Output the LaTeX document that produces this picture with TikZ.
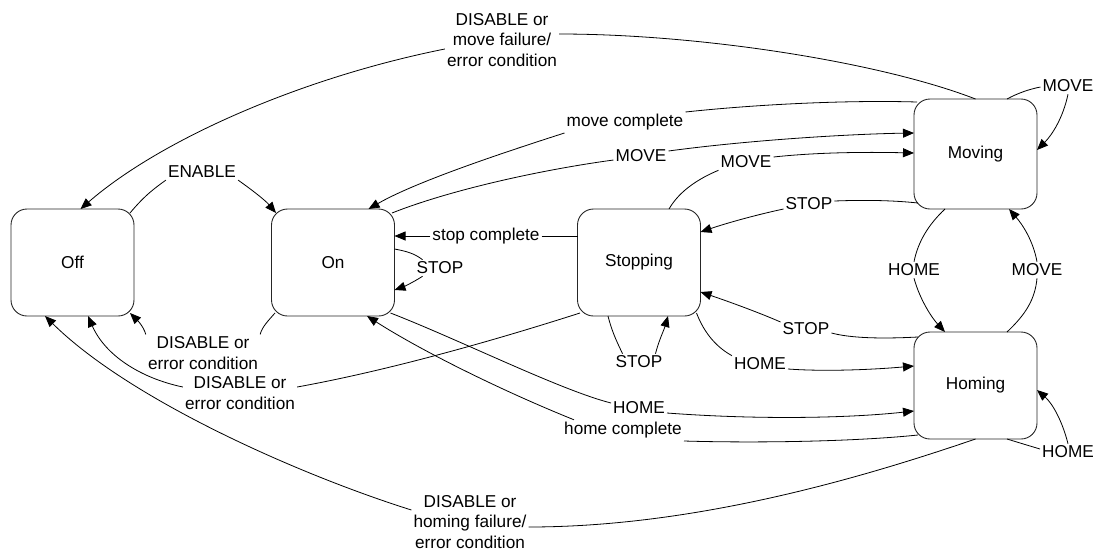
\documentclass[tikz,border=0pt]{standalone}
\usepackage{fontspec}
\setmainfont{Liberation Sans}
\usetikzlibrary{arrows.meta}
\begin{document}
\begin{tikzpicture}[x=1pt,y=-1pt,
  state/.style={draw=black!85,line width=0.9pt,rounded corners=16pt,minimum width=123pt,minimum height=107pt,outer sep=0pt,inner sep=0pt},
  lab/.style={inner sep=2pt,align=center},
  conn/.style={line width=0.8pt},
  arr/.style={conn,-{Triangle[length=11pt,width=9pt]}},
  every node/.style={font=\fontsize{17.2}{20.5}\selectfont}]
\useasboundingbox (0,0) rectangle (1096,550);
% states
\node[state] (off) at (72.5,262.5) {Off};
\node[state] (on) at (333,262.5) {On};
\node[state] (stp) at (639,262.5) {Stopping};
\node[state,minimum height=110pt] (mov) at (975.5,154) {Moving};
\node[state] (hom) at (975.5,385.5) {Homing};
% labels
\node[lab] (l1) at (502,40) {DISABLE or\\move failure/\\error condition};
\node[lab] (en) at (202,172) {ENABLE};
\node[lab] (l3) at (203,353) {DISABLE or\\error condition};
\node[lab] (l4) at (240,393) {DISABLE or\\error condition};
\node[lab] (l5) at (470,522) {DISABLE or\\homing failure/\\error condition};
\node[lab] (l6) at (641,156) {MOVE};
\node[lab] (l7) at (625,122) {move complete};
\node[lab] (sc) at (486,236) {stop complete};
\node[lab] (l9) at (440,268) {STOP};
\node[lab] (l10) at (746,162) {MOVE};
\node[lab] (l11) at (809,204) {STOP};
\node[lab] (l12) at (806,329) {STOP};
\node[lab] (l13) at (760,364) {HOME};
\node[lab] (l14) at (639,362) {STOP};
\node[lab] (l15) at (639,408) {HOME};
\node[lab] (l16) at (623,430) {home complete};
\node[lab] (l17) at (914,270) {HOME};
\node[lab] (l18) at (1037,270) {MOVE};
\node[lab] (l19) at (1068,86) {MOVE};
\node[lab] (l20) at (1068,452) {HOME};
% E1 Moving -> Off
\draw[conn] (mov.north) .. controls (880,62) and (700,34) .. ([yshift=6pt]l1.east);
\draw[arr] ([yshift=-9pt]l1.west) .. controls (300,78) and (160,140) .. ([xshift=8pt]off.north);
% E2 Off -> On
\draw[conn] ([xshift=-4pt,yshift=-4pt]off.north east) .. controls (145,195) and (155,188) .. (en.south west);
\draw[arr] (en.south east) .. controls (252,190) and (265,200) .. ([xshift=4.5pt,yshift=-4pt]on.north west);
% E3 On -> Off
\draw[conn] ([xshift=3.5pt,yshift=3pt]on.south west) .. controls (268,321) and (262,327) .. (l3.north east);
\draw[arr] (l3.north west) .. controls (143,325) and (136,319) .. ([xshift=-4pt,yshift=3pt]off.south east);
% E4 Stopping -> Off
\draw[conn] ([xshift=2.5pt,yshift=3pt]stp.south west) .. controls (480,345) and (380,372) .. ([yshift=6pt]l4.east);
\draw[arr] ([yshift=6pt]l4.west) .. controls (140,378) and (105,355) .. ([xshift=15.5pt]off.south);
% E5 Homing -> Off
\draw[conn] (hom.south) .. controls (870,475) and (700,527) .. ([yshift=-5pt]l5.east);
\draw[arr] ([yshift=12pt]l5.west) .. controls (300,475) and (130,400) .. ([xshift=-27.5pt]off.south);
% E6 On -> Moving (MOVE)
\draw[conn] ([xshift=-2.5pt,yshift=-4pt]on.north east) .. controls (450,190) and (540,170) .. ([yshift=-4pt]l6.west);
\draw[arr] ([yshift=5pt]l6.east) .. controls (750,140) and (850,134) .. ([yshift=21pt]mov.west);
% E7 Moving -> On (move complete)
\draw[conn] ([xshift=3pt,yshift=-3pt]mov.north west) .. controls (850,100) and (760,104) .. ([yshift=10pt]l7.east);
\draw[arr] ([yshift=-11pt]l7.west) .. controls (480,160) and (410,185) .. ([xshift=-26pt]on.north east);
% E8 Stopping -> On (stop complete)
\draw[conn] (sc.east) -- (sc.east -| stp.west);
\draw[arr] (sc.west) -- (sc.west -| on.east);
% E9 On -> On (STOP)
\draw[conn] ([yshift=13.5pt]on.east) .. controls (405,251) and (414,253) .. ([xshift=8pt]l9.north west);
\draw[arr] ([xshift=8pt]l9.south west) .. controls (412,283) and (403,287) .. ([yshift=-27.5pt]on.east);
% E10 Stopping -> Moving (MOVE)
\draw[conn] ([xshift=30pt]stp.north) .. controls (680,190) and (700,178) .. (l10.south west);
\draw[arr] ([yshift=5pt]l10.east) .. controls (820,152) and (870,152) .. ([yshift=1pt]mov.west);
% E11 Moving -> Stopping (STOP)
\draw[conn] ([xshift=4pt,yshift=6pt]mov.south west) .. controls (890,200) and (860,200) .. ([yshift=3pt]l11.east);
\draw[arr] ([yshift=-5pt]l11.west) .. controls (760,214) and (730,222) .. ([yshift=30.5pt]stp.east);
% E12 Homing -> Stopping (STOP)
\draw[conn] ([xshift=4pt,yshift=-5pt]hom.north west) .. controls (880,339) and (850,338) .. ([yshift=-4pt]l12.east);
\draw[arr] ([yshift=7pt]l12.west) .. controls (760,313) and (730,302) .. ([yshift=-29.5pt]stp.east);
% E13 Stopping -> Homing (HOME)
\draw[conn] ([xshift=-4pt,yshift=3pt]stp.south east) .. controls (705,335) and (718,348) .. (l13.north west);
\draw[arr] ([yshift=-5pt]l13.east) .. controls (830,372) and (880,369) .. ([yshift=19.5pt]hom.west);
% E14 Stopping -> Stopping (STOP)
\draw[conn] ([xshift=-31pt]stp.south) .. controls (612,332) and (617,342) .. ([xshift=9pt]l14.north west);
\draw[arr] ([xshift=-9pt]l14.north east) .. controls (659,340) and (664,330) .. ([xshift=29pt]stp.south);
% E15 On -> Homing (HOME)
\draw[conn] ([xshift=-4pt,yshift=3pt]on.south east) .. controls (460,340) and (560,390) .. ([yshift=5pt]l15.west);
\draw[arr] ([yshift=-5pt]l15.east) .. controls (760,420) and (850,418) .. ([yshift=-25.5pt]hom.west);
% E16 Homing -> On (home complete)
\draw[conn] ([xshift=4pt,yshift=4pt]hom.south west) .. controls (850,442) and (750,443) .. ([yshift=-11pt]l16.east);
\draw[arr] ([xshift=12pt]l16.north west) .. controls (500,390) and (420,350) .. ([xshift=34pt]on.south);
% E17 Moving -> Homing (HOME)
\draw[conn] ([xshift=-30.5pt]mov.south) .. controls (928,225) and (918,242) .. (l17.north);
\draw[arr] (l17.south) .. controls (920,300) and (932,318) .. ([xshift=-30.5pt]hom.north);
% E18 Homing -> Moving (MOVE)
\draw[conn] ([xshift=31.5pt]hom.north) .. controls (1025,315) and (1035,300) .. (l18.south);
\draw[arr] (l18.north) .. controls (1033,240) and (1022,224) .. ([xshift=33.5pt]mov.south);
% E19 Moving -> Moving (MOVE)
\draw[conn] ([xshift=31.5pt]mov.north) .. controls (1018,93) and (1030,89) .. ([yshift=-1pt]l19.west);
\draw[arr] (l19.south) .. controls (1063,118) and (1052,135) .. ([yshift=4pt]mov.east);
% E20 Homing -> Homing (HOME)
\draw[conn] ([xshift=31.5pt]hom.south) .. controls (1020,443) and (1030,446) .. ([yshift=3pt]l20.west);
\draw[arr] (l20.north) .. controls (1062,420) and (1052,403) .. ([yshift=-4.5pt]hom.east);
\end{tikzpicture}
\end{document}
